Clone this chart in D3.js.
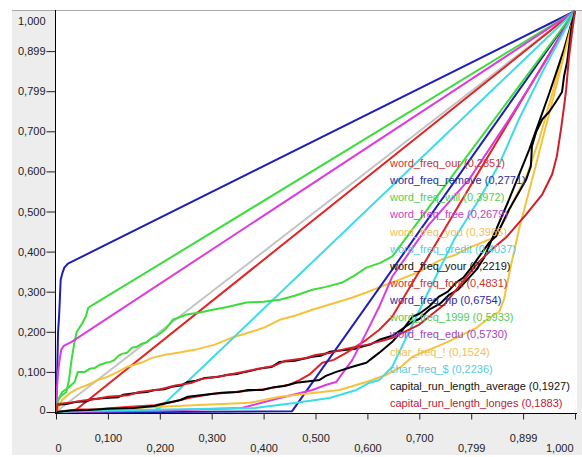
<!DOCTYPE html>
<html><head><meta charset="utf-8">
<script src="https://cdn.jsdelivr.net/npm/d3@7"></script>
<style>
html,body{margin:0;padding:0;background:#fff;}
text{font-family:"Liberation Sans",Arial,sans-serif;}
</style></head>
<body>
<svg id="c" width="582" height="457"></svg>
<script>
// ---------- data ----------
const categories = ["word_freq_our","word_freq_remove","word_freq_will","word_freq_free","word_freq_you","word_freq_credit","word_freq_your","word_freq_font","word_freq_hp","word_freq_1999","word_freq_edu","char_freq_!","char_freq_$","capital_run_length_average","capital_run_length_longes"];
const scoreLabels = ["0,2851","0,2771","0,3972","0,2679","0,3965","0,4037","0,2219","0,4831","0,6754","0,5933","0,5730","0,1524","0,2236","0,1927","0,1883"];
const seriesColors = ["#e02424","#1f1fb4","#3ddc3d","#dc3cdc","#f5c23c","#3cdce6","#000000","#e02424","#1f1fb4","#3ddc3d","#dc3cdc","#f5c23c","#3cdce6","#000000","#d01e2a"];
const textColors = ["#cc3333","#2a2aa0","#55cc55","#c044c0","#efc055","#55ccdd","#111111","#cc3333","#2a2aa0","#55cc55","#a044c0","#efc055","#55ccdd","#111111","#c02035"];

const xTickValues = [0,0.1,0.2,0.3,0.4,0.5,0.6,0.7,0.8,0.9,1];
const xTickLabels = ["0","0,100","0,200","0,300","0,400","0,500","0,600","0,700","0,799","0,899","1,000"];
const yTickValues = [0,0.1,0.2,0.3,0.4,0.5,0.6,0.7,0.8,0.9,1];
const yTickLabels = ["0","0,100","0,200","0,300","0,400","0,500","0,600","0,700","0,799","0,899","1,000"];

const diagonal = [[0,0],[1,1]];
const ourPts = [[0,0],[0.035,0.002],[1,1]];
const removePts = [[0,0],[0.002,0.08],[0.004,0.2],[0.006,0.24],[0.009,0.33],[0.012,0.345],[0.016,0.36],[0.023,0.37],[1,1]];
const willPts = [[0,0],[0.003,0.03],[0.01,0.04],[0.02,0.05],[0.025,0.08],[0.03,0.13],[0.035,0.17],[0.04,0.2],[0.05,0.22],[0.058,0.24],[0.062,0.26],[0.075,0.27],[1,1]];
const freePts = [[0,0],[0.002,0.06],[0.004,0.1],[0.007,0.13],[0.01,0.155],[0.015,0.165],[0.03,0.175],[1,1]];
const youPts = [[0,0],[0.002,0.005],[0.012,0.03],[0.025,0.045],[0.037,0.055],[0.05,0.062],[0.062,0.068],[0.081,0.08],[0.1,0.088],[0.119,0.1],[0.138,0.113],[0.165,0.123],[0.185,0.135],[0.21,0.143],[0.235,0.148],[0.267,0.155],[0.306,0.168],[0.338,0.185],[0.377,0.2],[0.4,0.21],[0.431,0.23],[0.46,0.24],[0.494,0.255],[0.54,0.273],[0.57,0.285],[0.598,0.298],[0.637,0.318],[0.662,0.33],[0.7,0.35],[0.742,0.38],[0.77,0.392],[0.796,0.41],[0.844,0.435],[0.863,0.475],[0.883,0.53],[0.908,0.593],[0.931,0.68],[0.956,0.793],[0.979,0.905],[1,1]];
const creditPts = [[0,0],[0.1,0.002],[0.19,0.005],[0.2,0.01],[1,1]];
const yourPts = [[0,0],[0.002,0.018],[0.02,0.02],[0.037,0.025],[0.06,0.027],[0.07,0.032],[0.094,0.035],[0.12,0.037],[0.13,0.043],[0.158,0.048],[0.175,0.05],[0.19,0.055],[0.21,0.057],[0.223,0.063],[0.24,0.066],[0.254,0.075],[0.27,0.078],[0.287,0.085],[0.31,0.087],[0.331,0.093],[0.35,0.095],[0.365,0.1],[0.383,0.105],[0.4,0.11],[0.415,0.112],[0.431,0.125],[0.46,0.128],[0.494,0.138],[0.51,0.14],[0.527,0.15],[0.56,0.155],[0.575,0.157],[0.59,0.163],[0.605,0.168],[0.623,0.18],[0.648,0.19],[0.665,0.205],[0.687,0.225],[0.7,0.232],[0.719,0.255],[0.74,0.27],[0.758,0.293],[0.775,0.305],[0.796,0.335],[0.81,0.355],[0.825,0.385],[0.844,0.443],[0.873,0.53],[0.912,0.655],[0.95,0.793],[0.979,0.905],[1,1]];
const fontPts = [[0,0],[0.04,0.006],[0.08,0.007],[0.13,0.012],[0.19,0.017],[0.23,0.027],[0.26,0.036],[0.3,0.045],[0.34,0.049],[0.4,0.057],[0.45,0.068],[0.47,0.08],[0.488,0.093],[0.513,0.123],[0.535,0.13],[0.56,0.148],[0.598,0.18],[0.623,0.205],[0.648,0.238],[1,1]];
const hpPts = [[0,0],[0.2,0],[0.455,0.002],[1,1]];
const n1999Pts = [[0,0],[0.004,0.03],[0.012,0.05],[0.023,0.06],[0.036,0.075],[0.042,0.1],[0.056,0.1],[0.065,0.108],[0.075,0.11],[0.085,0.118],[0.094,0.122],[0.105,0.125],[0.113,0.13],[0.12,0.14],[0.127,0.145],[0.137,0.148],[0.146,0.16],[0.155,0.162],[0.165,0.17],[0.175,0.174],[0.185,0.185],[0.195,0.19],[0.21,0.205],[0.225,0.23],[0.252,0.243],[0.277,0.248],[0.302,0.255],[0.33,0.262],[0.367,0.273],[0.4,0.275],[0.431,0.28],[0.46,0.29],[0.494,0.305],[0.52,0.312],[0.552,0.323],[0.575,0.34],[0.598,0.36],[0.625,0.372],[0.648,0.388],[1,1]];
const eduPts = [[0,0],[0.2,0.003],[0.358,0.01],[0.431,0.035],[0.494,0.055],[0.521,0.068],[0.54,0.075],[0.571,0.13],[0.598,0.198],[0.623,0.263],[0.648,0.338],[0.719,0.468],[0.796,0.58],[0.873,0.73],[0.94,0.868],[1,1]];
const exclPts = [[0,0],[0.062,0.005],[0.19,0.0125],[0.373,0.023],[0.431,0.038],[0.546,0.055],[0.598,0.075],[0.637,0.093],[0.662,0.11],[0.687,0.138],[0.752,0.173],[0.81,0.21],[0.835,0.235],[0.854,0.25],[0.863,0.28],[0.877,0.368],[0.892,0.455],[0.925,0.618],[0.965,0.818],[1,1]];
const dollarPts = [[0,0],[0.075,0.003],[0.383,0.01],[0.463,0.023],[0.527,0.035],[0.579,0.055],[0.604,0.073],[0.623,0.08],[0.648,0.113],[0.71,0.28],[0.767,0.43],[0.815,0.53],[0.854,0.618],[0.892,0.73],[0.94,0.855],[1,1]];
const capAvgPts = [[0,0],[0.03,0.004],[0.062,0.005],[0.1,0.008],[0.15,0.01],[0.19,0.015],[0.205,0.02],[0.223,0.025],[0.24,0.03],[0.254,0.038],[0.287,0.043],[0.319,0.048],[0.35,0.05],[0.37,0.055],[0.398,0.055],[0.42,0.062],[0.44,0.065],[0.463,0.073],[0.508,0.08],[0.52,0.09],[0.54,0.1],[0.571,0.113],[0.598,0.123],[0.61,0.135],[0.623,0.148],[0.648,0.175],[0.665,0.2],[0.687,0.238],[0.7,0.245],[0.719,0.263],[0.738,0.288],[0.755,0.3],[0.771,0.323],[0.785,0.335],[0.802,0.363],[0.821,0.398],[0.835,0.423],[0.848,0.438],[0.86,0.47],[0.873,0.505],[0.892,0.548],[0.906,0.58],[0.915,0.613],[0.917,0.663],[0.925,0.698],[0.937,0.73],[0.95,0.748],[0.963,0.773],[0.975,0.798],[0.979,0.838],[0.985,0.875],[0.994,0.968],[1,1]];
const capLongPts = [[0,0],[0.003,0.02],[0.03,0.024],[0.05,0.028],[0.08,0.033],[0.1,0.038],[0.14,0.042],[0.16,0.05],[0.2,0.056],[0.23,0.066],[0.26,0.072],[0.28,0.082],[0.32,0.09],[0.36,0.1],[0.39,0.108],[0.42,0.115],[0.44,0.127],[0.48,0.134],[0.5,0.142],[0.53,0.148],[0.56,0.158],[0.6,0.168],[0.63,0.178],[0.648,0.185],[0.7,0.218],[0.748,0.268],[0.787,0.33],[0.815,0.375],[0.844,0.41],[0.867,0.435],[0.906,0.493],[0.937,0.543],[0.956,0.593],[0.965,0.638],[0.973,0.705],[0.979,0.763],[0.983,0.805],[0.988,0.88],[0.994,0.943],[1,1]];

const seriesPoints = [ourPts,removePts,willPts,freePts,youPts,creditPts,yourPts,fontPts,hpPts,n1999Pts,eduPts,exclPts,dollarPts,capAvgPts,capLongPts];

// ---------- drawing ----------
const svg = d3.select("#c");
// panel background
svg.append("rect").attr("x",12).attr("y",10).attr("width",570).attr("height",445).attr("fill","#ededed");
svg.append("line").attr("x1",12).attr("x2",582).attr("y1",10.5).attr("y2",10.5).attr("stroke","#a8a8a8");
svg.append("rect").attr("x",56).attr("y",11).attr("width",521).attr("height",402).attr("fill","#ffffff");

const x = d3.scaleLinear().domain([0,1]).range([56,575]);
const y = d3.scaleLinear().domain([0,1]).range([412,11]);

const line = d3.line().x(d=>x(d[0])).y(d=>y(d[1]));

const g = svg.append("g");
g.append("path").datum(diagonal).attr("d",line).attr("fill","none").attr("stroke","#c4c4c4").attr("stroke-width",2);
seriesPoints.forEach((pts,i)=>{
  g.append("path").datum(pts).attr("d",line).attr("fill","none")
   .attr("stroke",seriesColors[i]).attr("stroke-width",2).attr("stroke-linejoin","round");
});

// legend
const leg = svg.append("g");
categories.forEach((c,i)=>{
  leg.append("text").attr("x",390).attr("y",167+i*17.14)
    .attr("font-size",11).attr("fill",textColors[i])
    .text(c+" ("+scoreLabels[i]+")");
});

// axes
const yAxis = d3.axisLeft(y).tickValues(yTickValues).tickFormat((d,i)=>yTickLabels[i]).tickSize(9).tickPadding(1);
const ya = svg.append("g").attr("transform","translate(55.5,0)").call(yAxis);
ya.select(".domain").remove();
ya.selectAll("text").attr("font-size",11).attr("fill","#222").attr("font-family","Liberation Sans, Arial, sans-serif");
ya.selectAll(".tick line").attr("stroke","#222");
ya.selectAll(".tick").filter(d=>d===1).select("line").remove();
ya.selectAll(".tick").filter(d=>d===1).select("text").attr("y",10);
ya.selectAll(".tick").filter(d=>d===0).select("text").attr("y",-2);

const xAxis = d3.axisBottom(x).tickValues(xTickValues).tickFormat((d,i)=>xTickLabels[i]).tickSize(6);
const xa = svg.append("g").attr("transform","translate(0,413.5)").call(xAxis);
xa.select(".domain").remove();
xa.selectAll(".tick line").attr("stroke","#222");
xa.selectAll("text").attr("font-size",11).attr("fill","#222").attr("font-family","Liberation Sans, Arial, sans-serif")
  .attr("dy",0).attr("y",(d,i)=> i%2===0 ? 38 : 28);
xa.selectAll(".tick").filter(d=>d===1).select("text").attr("text-anchor","end").attr("x",-2);
xa.selectAll(".tick").filter(d=>d===0).select("text").attr("x",2);

// axis lines
svg.append("line").attr("x1",55.5).attr("x2",55.5).attr("y1",10).attr("y2",414).attr("stroke","#000");
svg.append("line").attr("x1",55).attr("x2",577).attr("y1",413.5).attr("y2",413.5).attr("stroke","#000");
</script>
</body></html>
